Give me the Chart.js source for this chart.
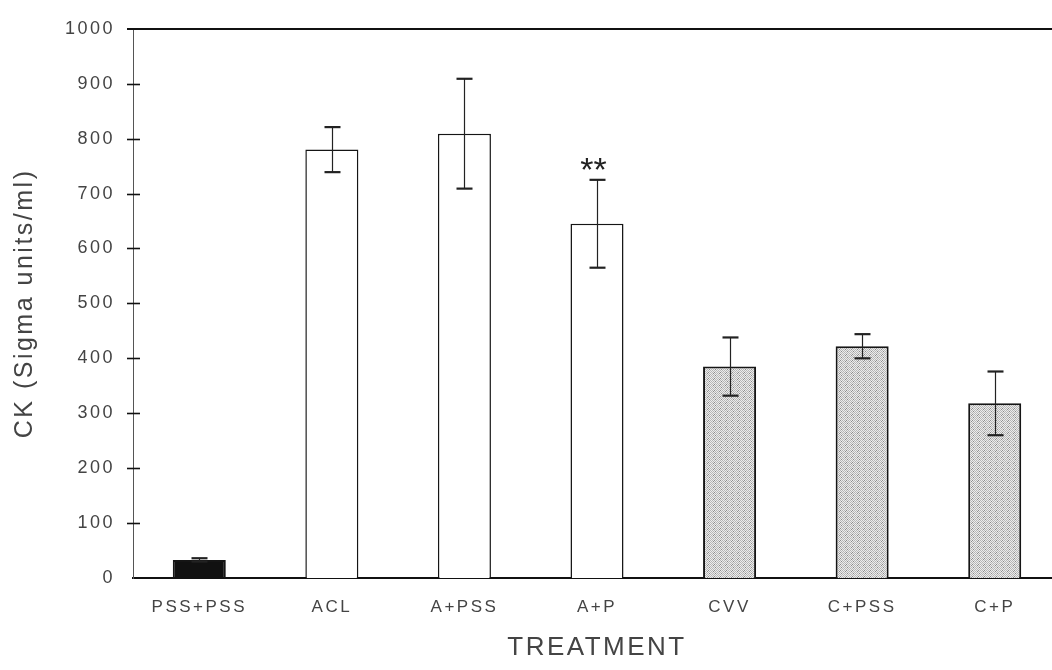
<!DOCTYPE html>
<html>
<head>
<meta charset="utf-8">
<script src="https://cdn.jsdelivr.net/npm/chart.js@4.4.1/dist/chart.umd.min.js"></script>
<style>
  html, body { margin: 0; padding: 0; background: #ffffff; overflow: hidden; }
  canvas { display: block; }
</style>
</head>
<body>
<canvas id="ck" width="1064" height="670"></canvas>
<script>
// Serum CK activity by treatment group (mean ± error)
const treatments = ['PSS+PSS', 'ACL', 'A+PSS', 'A+P', 'CVV', 'C+PSS', 'C+P'];
const ckMeans    = [33, 780, 809, 645, 385, 422, 318];
const ckErrors   = [3, 41, 100, 80, 53, 22, 58];
const marks      = ['', '', '', '**', '', '', ''];
const yTickValues = [0, 100, 200, 300, 400, 500, 600, 700, 800, 900, 1000];

// Fill kind per group: control, ACL-type, C-type
const fillKinds = ['solid', 'open', 'open', 'open', 'dots', 'dots', 'dots'];

function stipple() {
  const c = document.createElement('canvas');
  c.width = 6; c.height = 6;
  const g = c.getContext('2d');
  g.fillStyle = '#ececec';
  g.fillRect(0, 0, 6, 6);
  for (let y = 0; y < 6; y++) {
    for (let x = 0; x < 6; x++) {
      if ((x + y) % 2 === 0) {
        g.fillStyle = ((x * 5 + y * 3) % 7 === 0) ? '#8c8c8c' : '#b6b6b6';
        g.fillRect(x, y, 1, 1);
      }
    }
  }
  return document.getElementById('ck').getContext('2d').createPattern(c, 'repeat');
}
const dotPattern = stipple();
const fills = fillKinds.map(k => k === 'solid' ? '#111111' : k === 'open' ? '#ffffff' : dotPattern);
const borders = fillKinds.map(k => k === 'open' ? 1.5 : 2);

const FONT = "'Liberation Sans', Arial, sans-serif";

const spacing = {
  id: 'spacing',
  beforeLayout(chart) { chart.ctx.letterSpacing = '2.5px'; },
  beforeDraw(chart) { chart.ctx.letterSpacing = '2.5px'; }
};

const frame = {
  id: 'frame',
  afterDraw(chart) {
    const { ctx, chartArea, scales } = chart;
    const y = scales.y;
    ctx.save();
    ctx.strokeStyle = '#111';
    // top rule at the scale maximum
    ctx.lineWidth = 2;
    const yTop = Math.round(y.getPixelForValue(1000));
    ctx.beginPath();
    ctx.moveTo(chartArea.left - 6, yTop);
    ctx.lineTo(chart.width, yTop);
    ctx.stroke();
    // tick marks crossing the value axis
    ctx.lineWidth = 1.6;
    yTickValues.forEach(v => {
      if (v === 0 || v === 1000) return;
      const py = Math.round(y.getPixelForValue(v)) + 0.5;
      ctx.beginPath();
      ctx.moveTo(chartArea.left - 6, py);
      ctx.lineTo(chartArea.left + 7, py);
      ctx.stroke();
    });
    ctx.restore();
  }
};

const errorBars = {
  id: 'errorBars',
  afterDatasetsDraw(chart) {
    const { ctx, scales } = chart;
    const y = scales.y;
    const meta = chart.getDatasetMeta(0);
    ctx.save();
    ctx.strokeStyle = '#222';
    meta.data.forEach((bar, i) => {
      const x = Math.round(bar.x) + 0.5;
      const hi = y.getPixelForValue(ckMeans[i] + ckErrors[i]);
      const lo = y.getPixelForValue(ckMeans[i] - ckErrors[i]);
      ctx.lineWidth = 1.2;
      ctx.beginPath();
      ctx.moveTo(x, hi);
      ctx.lineTo(x, lo);
      ctx.stroke();
      ctx.lineWidth = 2.2;
      [hi, lo].forEach(py => {
        ctx.beginPath();
        ctx.moveTo(x - 8, py);
        ctx.lineTo(x + 8, py);
        ctx.stroke();
      });
      if (marks[i]) {
        ctx.fillStyle = '#222';
        ctx.font = '34px ' + FONT;
        ctx.letterSpacing = '0px';
        ctx.textAlign = 'center';
        ctx.textBaseline = 'middle';
        ctx.fillText(marks[i], x - 4, hi - 8);
      }
    });
    ctx.restore();
  }
};

new Chart(document.getElementById('ck'), {
  type: 'bar',
  data: {
    labels: treatments,
    datasets: [{
      data: ckMeans,
      backgroundColor: fills,
      borderColor: '#151515',
      borderWidth: borders,
      barPercentage: 0.4,
      categoryPercentage: 1.0
    }]
  },
  options: {
    responsive: false,
    animation: false,
    devicePixelRatio: 1,
    layout: { padding: { top: 28, right: 3, left: 0, bottom: 0 } },
    plugins: { legend: { display: false }, tooltip: { enabled: false } },
    scales: {
      x: {
        offset: true,
        grid: { display: false, drawTicks: false },
        border: { display: true, color: '#111', width: 2 },
        ticks: {
          autoSkip: false, maxRotation: 0, padding: 19,
          color: '#444444', font: { family: FONT, size: 17 }
        },
        title: {
          display: true, text: 'TREATMENT', color: '#444444',
          font: { family: FONT, size: 26 }, padding: { top: 0, bottom: 7 }
        },
        afterFit(scale) { scale.height = 92; }
      },
      y: {
        min: 0, max: 1000,
        afterBuildTicks(scale) { scale.ticks = yTickValues.map(v => ({ value: v })); },
        grid: { display: false, drawTicks: false },
        border: { display: true, color: '#555', width: 1 },
        ticks: {
          padding: 18, color: '#444444',
          font: { family: FONT, size: 18 },
          callback: v => String(v)
        },
        title: {
          display: true, text: 'CK (Sigma units/ml)', color: '#444444',
          font: { family: FONT, size: 25 }, padding: { top: 10, bottom: 0 }
        },
        afterFit(scale) { scale.width = 133; }
      }
    }
  },
  plugins: [spacing, errorBars, frame]
});
</script>
</body>
</html>
